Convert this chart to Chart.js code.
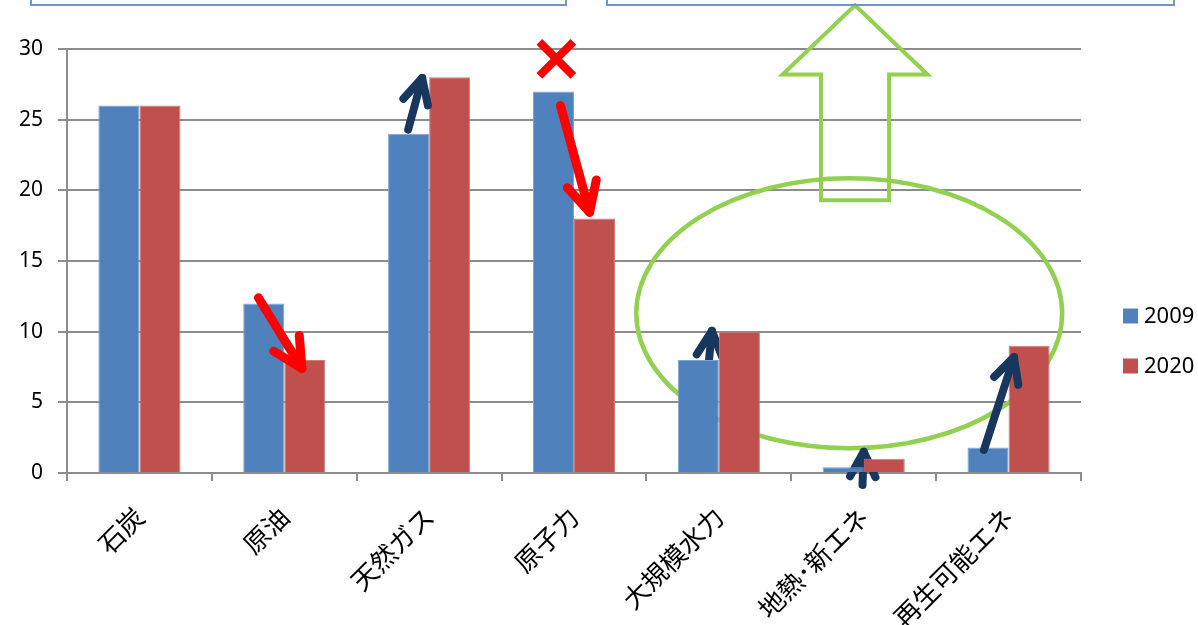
<!DOCTYPE html>
<html>
<head>
<meta charset="utf-8">
<script src="https://cdn.jsdelivr.net/npm/chart.js@4.4.1/dist/chart.umd.min.js"></script>
<style>
html,body{margin:0;padding:0;background:#fff;}
#wrap{width:1198px;height:625px;position:relative;}
</style>
</head>
<body>
<div id="wrap"><canvas id="c" width="1198" height="625"></canvas></div>
<script>
// ---- data ----
const categories = ['石炭','原油','天然ガス','原子力','大規模水力','地熱･新エネ','再生可能エネ'];
const seriesLabels = ['2009','2020'];
const values2009 = [26, 12, 24, 27, 8, 0.4, 1.8];
const values2020 = [26, 8, 28, 18, 10, 1, 9];
const yMin = 0, yMax = 30, yStep = 5;

const BLUE = '#4F81BD', RED = '#C0504D', NAVY = '#17375E', ARED = '#FF0000', GREEN = '#92D050';

// annotation definitions in data space: category index, offset in bar widths, value
const arrowsFront = [
  {cat:1, x1:-0.63, v1:12.4, x2:0.43, v2:7.4, color:ARED, w:9, head:33},
  {cat:2, x1:-0.51, v1:24.3, x2:-0.17, v2:27.95, color:NAVY, w:8, head:28},
  {cat:3, x1:-0.33, v1:26.0, x2:0.38, v2:18.45, color:ARED, w:9, head:33},
  {cat:6, x1:-0.6, v1:1.63, x2:0.13, v2:8.2, color:NAVY, w:8, head:28}
];
const arrowsBack = [
  {cat:4, x1:-0.24, v1:8.0, x2:-0.17, v2:10.06, color:NAVY, w:8, head:28},
  {cat:5, x1:-0.03, v1:-0.85, x2:0.0, v2:1.5, color:NAVY, w:8, head:28}
];
const crossMark = {cat:3, x:-0.43, v:29.3, half:17, color:ARED, w:8};
const ellipseMark = {cat:4.9, v:11.3, rCat:1.47, rV:9.55};
const bigArrow = {cat:4.94, tipV:33.1, headV:28.2, headHalf:0.5, shaftHalf:0.235, bottomV:19.3};

function drawArrow(ctx, x1, y1, x2, y2, color, w, head){
  ctx.save();
  ctx.strokeStyle = color; ctx.lineWidth = w; ctx.lineCap = 'round'; ctx.lineJoin='round';
  ctx.beginPath(); ctx.moveTo(x1,y1); ctx.lineTo(x2,y2); ctx.stroke();
  const a = Math.atan2(y2-y1, x2-x1) + Math.PI;
  const d = 27*Math.PI/180;
  ctx.beginPath();
  ctx.moveTo(x2 + head*Math.cos(a-d), y2 + head*Math.sin(a-d));
  ctx.lineTo(x2, y2);
  ctx.lineTo(x2 + head*Math.cos(a+d), y2 + head*Math.sin(a+d));
  ctx.stroke();
  ctx.restore();
}

function barW(chart){
  const m = chart.getDatasetMeta(0);
  return m.data[0].width;
}

const annot = {
  id:'annot',
  beforeDatasetsDraw(chart){
    const ctx = chart.ctx, xs = chart.scales.x, ys = chart.scales.y, bw = barW(chart);
    const catW = xs.getPixelForValue(1) - xs.getPixelForValue(0);
    // ellipse
    ctx.save();
    ctx.strokeStyle = GREEN; ctx.lineWidth = 4.5;
    const cx = xs.getPixelForValue(ellipseMark.cat), cy = ys.getPixelForValue(ellipseMark.v);
    const rx = ellipseMark.rCat*catW, ry = Math.abs(ys.getPixelForValue(0)-ys.getPixelForValue(ellipseMark.rV));
    ctx.beginPath(); ctx.ellipse(cx, cy, rx, ry, 0, 0, Math.PI*2); ctx.stroke();
    // big hollow arrow
    const bx = xs.getPixelForValue(bigArrow.cat);
    const tY = ys.getPixelForValue(bigArrow.tipV), hY = ys.getPixelForValue(bigArrow.headV), bY = ys.getPixelForValue(bigArrow.bottomV);
    const hh = bigArrow.headHalf*catW, sh = bigArrow.shaftHalf*catW;
    ctx.lineJoin = 'miter'; ctx.lineWidth = 4;
    ctx.beginPath();
    ctx.moveTo(bx, tY); ctx.lineTo(bx+hh, hY); ctx.lineTo(bx+sh, hY); ctx.lineTo(bx+sh, bY);
    ctx.lineTo(bx-sh, bY); ctx.lineTo(bx-sh, hY); ctx.lineTo(bx-hh, hY); ctx.closePath();
    ctx.stroke();
    ctx.restore();
    arrowsBack.forEach(a=>{
      const c = xs.getPixelForValue(a.cat);
      drawArrow(ctx, c+a.x1*bw, ys.getPixelForValue(a.v1), c+a.x2*bw, ys.getPixelForValue(a.v2), a.color, a.w, a.head);
    });
  },
  afterDatasetsDraw(chart){
    const ctx = chart.ctx, xs = chart.scales.x, ys = chart.scales.y, bw = barW(chart);
    arrowsFront.forEach(a=>{
      const c = xs.getPixelForValue(a.cat);
      drawArrow(ctx, c+a.x1*bw, ys.getPixelForValue(a.v1), c+a.x2*bw, ys.getPixelForValue(a.v2), a.color, a.w, a.head);
    });
    // cross
    const c = xs.getPixelForValue(crossMark.cat) + crossMark.x*bw, cy = ys.getPixelForValue(crossMark.v), h = crossMark.half;
    ctx.save();
    ctx.strokeStyle = crossMark.color; ctx.lineWidth = crossMark.w; ctx.lineCap='butt';
    ctx.beginPath(); ctx.moveTo(c-h, cy-h); ctx.lineTo(c+h, cy+h); ctx.moveTo(c+h, cy-h); ctx.lineTo(c-h, cy+h); ctx.stroke();
    ctx.restore();
  },
  afterDraw(chart){
    const ctx = chart.ctx;
    // top boxes (cut off at top edge)
    ctx.save();
    ctx.strokeStyle = '#6F96C8'; ctx.lineWidth = 2;
    [[31,566],[607,1174]].forEach(([l,r])=>{
      ctx.beginPath(); ctx.moveTo(l,-2); ctx.lineTo(l,5); ctx.lineTo(r,5); ctx.lineTo(r,-2); ctx.stroke();
    });
    // legend
    const ds = chart.data.datasets;
    ctx.font = '22px "Noto Sans", "DejaVu Sans", sans-serif';
    ctx.textBaseline = 'middle'; ctx.textAlign = 'left';
    ds.forEach((d,i)=>{
      const y = 316 + i*50;
      ctx.fillStyle = d.backgroundColor;
      ctx.fillRect(1123, y-7.5, 15, 15);
      ctx.fillStyle = '#000';
      ctx.fillText(d.label, 1144, y+1);
    });
    ctx.restore();
  }
};

new Chart(document.getElementById('c'), {
  type:'bar',
  data:{
    labels: categories,
    datasets:[
      {label:seriesLabels[0], data:values2009, backgroundColor:BLUE, borderColor:'#7FA3D1', borderWidth:{left:1,right:1,top:1,bottom:0}},
      {label:seriesLabels[1], data:values2020, backgroundColor:RED, borderColor:'#D07A78', borderWidth:{left:1,right:1,top:1,bottom:0}}
    ]
  },
  options:{
    responsive:false, animation:false, devicePixelRatio:1,
    layout:{padding:{top:49, right:117, left:0, bottom:0}},
    datasets:{bar:{categoryPercentage:0.567, barPercentage:1}},
    plugins:{legend:{display:false}, tooltip:{enabled:false}},
    scales:{
      x:{
        afterFit(s){ s.height = 152; },
        grid:{offset:true, drawOnChartArea:false, drawTicks:true, tickLength:8, color:'#8C8C8C', lineWidth:2},
        border:{color:'#8C8C8C', width:2},
        ticks:{color:'#000', maxRotation:45, minRotation:45, padding:20,
          font:{family:'"Noto Sans CJK JP", sans-serif', size:26}}
      },
      y:{
        min:yMin, max:yMax,
        afterFit(s){ s.width = 67; },
        grid:{color:'#8C8C8C', lineWidth:2, tickLength:9, drawTicks:true},
        border:{color:'#8C8C8C', width:2},
        ticks:{stepSize:yStep, color:'#000', padding:15,
          font:{family:'"Noto Sans", "Open Sans", sans-serif', size:21}}
      }
    }
  },
  plugins:[annot]
});
</script>
</body>
</html>
